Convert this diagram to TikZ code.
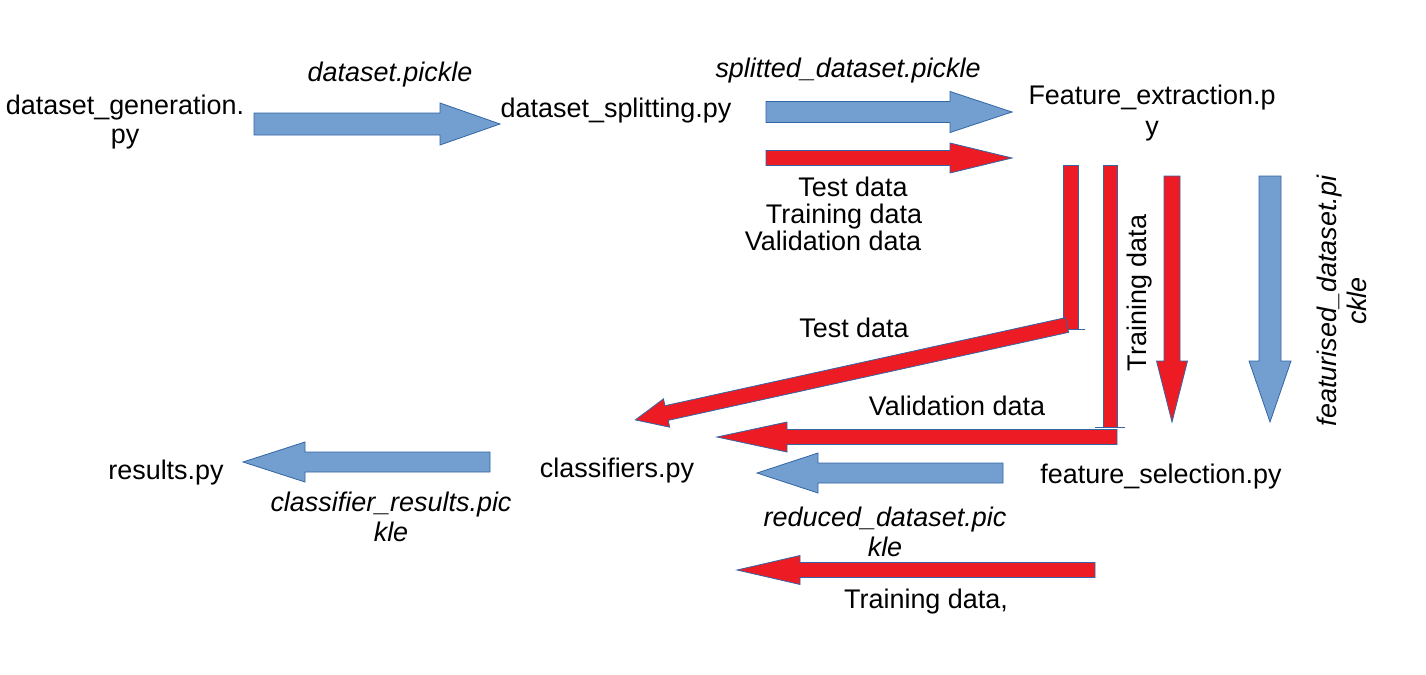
\documentclass[tikz,border=0pt]{standalone}
\usepackage{fontspec}
\setmainfont{Liberation Sans}
\definecolor{bfill}{HTML}{729FCF}
\definecolor{bline}{HTML}{3465A4}
\definecolor{rfill}{HTML}{ED1C24}
\tikzset{
  bluearr/.style={fill=bfill,draw=bline,line width=0.6pt,line join=miter},
  redarr/.style={fill=rfill,draw=bline,line width=0.6pt,line join=miter},
  lbl/.style={inner sep=0pt,align=center,font=\fontsize{20.2}{20.25}\selectfont},
  ilbl/.style={lbl,font=\fontsize{20.2}{20.25}\selectfont\itshape},
}
% #1 style, #2 tail, #3 angle, #4 length, #5 shaft half width, #6 head half width, #7 head length
\newcommand\blockarr[7]{%
  \draw[#1,shift={#2},rotate=#3] (0,-#5) -- ({#4-#7},-#5) -- ({#4-#7},-#6) -- (#4,0)
    -- ({#4-#7},#6) -- ({#4-#7},#5) -- (0,#5) -- cycle;}
\begin{document}
\begin{tikzpicture}[x=0.75pt,y=-0.75pt]
\useasboundingbox (0,0) rectangle (1426,674);
% labels
\node[lbl,font=\fontsize{20.2}{21.75}\selectfont] (gen) at (125,122) {dataset\_generation.\\py};
\node[ilbl] (dpk) at (390,75) {dataset.pickle};
\node[lbl] (split) at (616,111) {dataset\_splitting.py};
\node[ilbl] (spk) at (848,71) {splitted\_dataset.pickle};
\node[lbl,font=\fontsize{20.2}{23.5}\selectfont] (fext) at (1152,113) {Feature\_extraction.p\\y};
\node[lbl] (tvt) at (833,214) {\hspace*{30pt}Test data\\\hspace*{16.5pt}Training data\\Validation data};
\node[lbl] (test) at (854,328) {Test data};
\node[lbl,rotate=90] (train) at (1140,293) {Training data};
\node[ilbl,font=\fontsize{20.2}{22.5}\selectfont\itshape,rotate=90] (fpk) at (1342,301) {featurised\_dataset.pi\\ckle};
\node[lbl] (val) at (957,406) {Validation data};
\node[lbl] (clf) at (617,471) {classifiers.py};
\node[lbl] (res) at (166,473) {results.py};
\node[ilbl,font=\fontsize{20.2}{22}\selectfont\itshape] (cpk) at (391,517) {classifier\_results.pic\\kle};
\node[lbl] (fsel) at (1161,477) {feature\_selection.py};
\node[ilbl,font=\fontsize{20.2}{22}\selectfont\itshape] (rpk) at (885,532) {reduced\_dataset.pic\\kle};
\node[lbl] (trc) at (926,602) {Training data,};
% arrows
\blockarr{bluearr}{(254,124)}{0}{246}{11}{21}{60}
\blockarr{bluearr}{(766,112)}{0}{246}{10.5}{20.5}{62}
\blockarr{redarr}{(766,158)}{0}{246}{7.5}{15}{62}
% vertical red bars
\draw[redarr] (1063,165) rectangle (1078,329);
\draw[bline,line width=0.6pt] (1063,329) -- (1085,329);
\draw[redarr] (1103,165) rectangle (1117,427);
\draw[bline,line width=0.6pt] (1095,427) -- (1125,427);
\blockarr{redarr}{(1172,176)}{-90}{246}{8}{15.5}{61}
\blockarr{bluearr}{(1270,176)}{-90}{246}{11}{21}{61}
\blockarr{redarr}{(1067,325)}{192.4}{442}{7.5}{14.5}{32}
\blockarr{redarr}{(1117,437)}{180}{400}{7.5}{15}{70}
\blockarr{bluearr}{(1003,473)}{180}{246}{10}{20}{61}
\blockarr{redarr}{(1095,570)}{180}{358}{7.5}{14.5}{63}
\blockarr{bluearr}{(490,462)}{180}{247}{10}{20}{62}
\end{tikzpicture}
\end{document}
